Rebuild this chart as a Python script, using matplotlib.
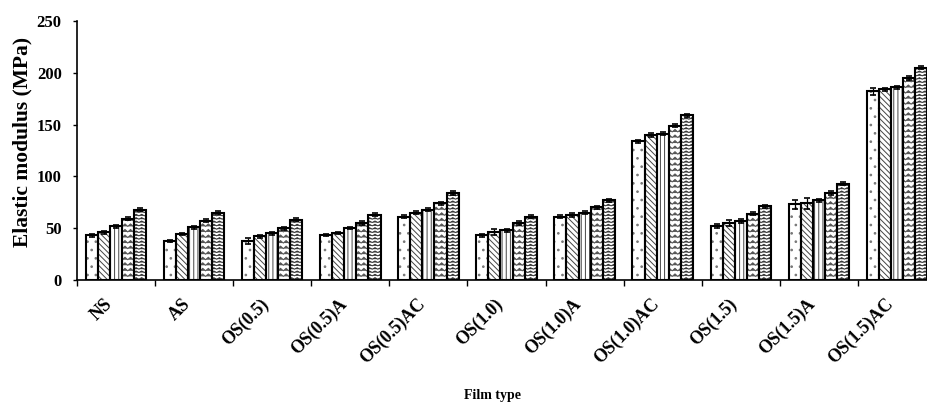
# Elastic modulus of the films, five treatments per film type

import numpy as np
import matplotlib
matplotlib.use('Agg')
import matplotlib.pyplot as plt
import matplotlib.hatch as mhatch
from matplotlib.path import Path
import warnings

warnings.filterwarnings('ignore')

film_types = ['NS', 'AS', 'OS(0.5)', 'OS(0.5)A', 'OS(0.5)AC', 'OS(1.0)', 'OS(1.0)A',
              'OS(1.0)AC', 'OS(1.5)', 'OS(1.5)A', 'OS(1.5)AC']

mod_1 = [43, 38, 38, 43, 61, 43, 61, 134, 52, 73, 182]
mod_2 = [46, 44, 42, 45, 65, 46, 63, 140, 55, 74, 184]
mod_3 = [52, 51, 45, 50, 68, 48, 65, 141, 57, 77, 186]
mod_4 = [59, 57, 50, 55, 74, 55, 70, 149, 64, 84, 195]
mod_5 = [68, 65, 58, 63, 84, 61, 77, 159, 71, 93, 205]

err_1 = [1.5, 1, 3, 1, 1.5, 1.5, 1.5, 1.5, 2, 4, 3]
err_2 = [1.5, 1, 1.5, 1, 1.5, 3, 2, 1.5, 3, 5, 1.5]
err_3 = [1.5, 1.5, 1.5, 1, 1.5, 1.5, 1.5, 1.5, 2, 1.5, 1.5]
err_4 = [1.5, 1.5, 1.5, 1.5, 1.5, 1.5, 1.5, 1.5, 1.5, 1.5, 1.5]
err_5 = [1.5, 1.5, 1.5, 1.5, 1.5, 1.5, 1.5, 1.5, 1.5, 1.5, 1.5]


class WaveHatch(mhatch.HatchPatternBase):
    """zigzag rows, drawn for the '~' hatch character"""
    teeth = 18

    def __init__(self, hatch, density):
        self.num_rows = int(hatch.count('~') * density)
        self.num_vertices = self.num_rows * (2 * self.teeth + 1)

    def set_vertices_and_codes(self, vertices, codes):
        step = 1.0 / self.num_rows
        xs = np.linspace(0.0, 1.0, 2 * self.teeth + 1)
        amp = np.tile([0.0, 1.0], self.teeth + 1)[:len(xs)] * step * 0.45
        n = len(xs)
        for r in range(self.num_rows):
            y0 = (r + 0.25) * step
            vertices[r * n:(r + 1) * n, 0] = xs
            vertices[r * n:(r + 1) * n, 1] = y0 + amp
            codes[r * n] = Path.MOVETO
            codes[r * n + 1:(r + 1) * n] = Path.LINETO


mhatch._hatch_types.append(WaveHatch)

plt.rcParams['font.family'] = ['Liberation Serif', 'DejaVu Serif']
plt.rcParams['font.weight'] = 'bold'
plt.rcParams['hatch.linewidth'] = 0.7

fig = plt.figure(figsize=(9.27, 4.09), dpi=100)
ax = fig.add_axes([77 / 927, 0.3154, 859 / 927, 0.6333])

series = [mod_1, mod_2, mod_3, mod_4, mod_5]
errors = [err_1, err_2, err_3, err_4, err_5]
hatches = ['..', '\\\\\\\\\\\\', '||||', '~~~', '~~~~~']
hatch_cols = ['#777777', '#444444', '#444444', '#555555', '#333333']

x = np.arange(len(film_types)) + 0.5
w = 0.155
for i, (vals, err) in enumerate(zip(series, errors)):
    pos = x + (i - 2) * w
    # hatch fill first, then a clean black outline with the error bars
    ax.bar(pos, vals, w, color='white', edgecolor=hatch_cols[i], linewidth=0,
           hatch=hatches[i], zorder=2)
    ax.bar(pos, vals, w, fill=False, edgecolor='black', linewidth=1.5,
           yerr=err, capsize=2.2, error_kw={'elinewidth': 0.9, 'capthick': 1.2},
           zorder=3)

ax.set_xlim(0, len(film_types))
ax.set_ylim(0, 250)
ax.set_yticks(np.arange(0, 251, 50))
ax.set_xticks(np.arange(0, len(film_types) + 1), [])
ax.set_xticks(x, film_types, minor=True)
ax.tick_params(axis='x', which='major', length=4, width=1, direction='out')
ax.tick_params(axis='x', which='minor', length=0, pad=11)
ax.tick_params(axis='y', length=3, width=1, labelsize=12, pad=8)
for lab in ax.get_xticklabels(minor=True):
    lab.set_rotation(45)
    lab.set_ha('right')
    lab.set_va('top')
    lab.set_fontsize(13)
    lab.set_fontweight('bold')
for lab in ax.get_yticklabels():
    lab.set_fontweight('bold')

for side in ['top', 'right']:
    ax.spines[side].set_visible(False)
ax.spines['left'].set_linewidth(1.2)
ax.spines['bottom'].set_linewidth(1.2)

fig.text(22 / 927, 0.653, 'Elastic modulus (MPa)', rotation=90, ha='center',
         va='center', fontsize=15.5, fontweight='bold')
fig.text(492 / 927, 1 - 396 / 409, 'Film type', ha='center', va='center',
         fontsize=10, fontweight='bold')

fig.savefig('out.png', dpi=100)
